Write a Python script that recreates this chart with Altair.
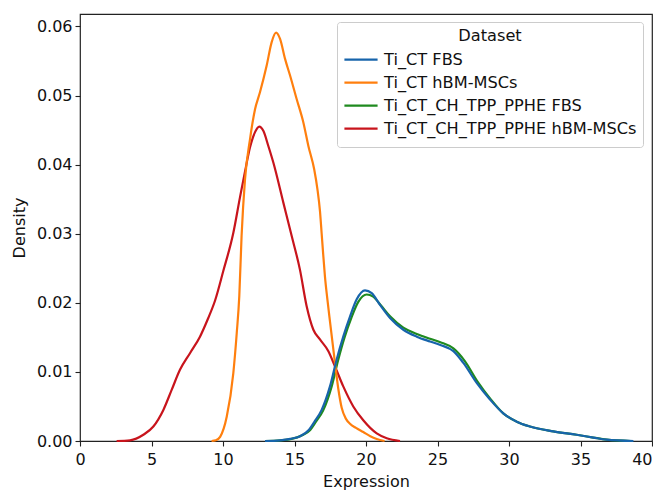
import altair as alt
import pandas as pd

series_names = ["Ti_CT FBS", "Ti_CT hBM-MSCs", "Ti_CT_CH_TPP_PPHE FBS", "Ti_CT_CH_TPP_PPHE hBM-MSCs"]
series_colors = ["#1764ab", "#ff7f0e", "#1f8a1f", "#c8141c"]

blue_x = [12.94, 14.0, 14.7, 15.4, 16.0, 16.4, 16.9, 17.48, 17.95, 18.41, 18.88, 19.35, 19.93, 20.4, 20.98, 21.68, 22.61, 23.55, 24.48, 25.2, 26.11, 26.81, 27.74, 28.67, 29.6, 30.54, 31.47, 33.1, 34.73, 35.9, 36.83, 38.7]
blue_y = [0, 0.0001, 0.0003, 0.0007, 0.0016, 0.0028, 0.0045, 0.0079, 0.0118, 0.0151, 0.018, 0.0205, 0.0218, 0.0214, 0.0197, 0.0178, 0.0161, 0.0151, 0.0144, 0.0139, 0.013, 0.0113, 0.0084, 0.006, 0.004, 0.0028, 0.0021, 0.0014, 0.0009, 0.0005, 0.0002, 0]

orange_x = [9.2, 9.5, 9.8, 10.26, 10.72, 10.96, 11.14, 11.3, 11.54, 11.89, 12.24, 12.59, 13.05, 13.4, 13.71, 13.99, 14.34, 14.69, 15.15, 15.62, 15.97, 16.38, 16.6, 16.78, 16.9, 17.0, 17.13, 17.3, 17.48, 17.83, 18.06, 18.3, 18.6, 18.88, 19.3, 19.81, 20.3, 20.75, 21.3]
orange_y = [0, 0.0001, 0.0006, 0.0035, 0.0098, 0.0156, 0.021, 0.0297, 0.0379, 0.0437, 0.048, 0.0505, 0.0543, 0.0577, 0.0591, 0.0582, 0.0553, 0.0529, 0.0495, 0.0461, 0.0427, 0.0393, 0.0365, 0.0333, 0.03, 0.0272, 0.0238, 0.0205, 0.0173, 0.0113, 0.0076, 0.0048, 0.0032, 0.0025, 0.0019, 0.0013, 0.0007, 0.0003, 0]

green_x = [12.94, 14.0, 14.8, 15.5, 16.1, 16.5, 17.0, 17.6, 18.05, 18.5, 18.97, 19.45, 20.05, 20.5, 21.05, 21.7, 22.61, 23.55, 24.48, 25.2, 26.11, 26.9, 27.8, 28.7, 29.6, 30.54, 31.47, 33.1, 34.73, 35.9, 36.83, 38.5]
green_y = [0, 0.0001, 0.0003, 0.0008, 0.0016, 0.0028, 0.0044, 0.0079, 0.0117, 0.015, 0.0178, 0.0201, 0.0212, 0.0209, 0.0196, 0.018, 0.0164, 0.0155, 0.0148, 0.0143, 0.0134, 0.0116, 0.0086, 0.0061, 0.004, 0.0028, 0.0021, 0.0014, 0.0009, 0.0005, 0.0002, 0]

red_x = [2.56, 3.5, 4.43, 5.13, 5.83, 6.41, 6.99, 7.69, 8.39, 8.97, 9.44, 10.02, 10.72, 11.19, 11.54, 11.89, 12.24, 12.54, 12.82, 13.17, 13.52, 14.22, 14.8, 15.38, 15.85, 16.32, 16.78, 17.37, 17.83, 18.41, 19.11, 19.81, 20.75, 21.45, 22.38]
red_y = [0, 0.0001, 0.0009, 0.0021, 0.0045, 0.0074, 0.0103, 0.0127, 0.0151, 0.0178, 0.0203, 0.0246, 0.0301, 0.0353, 0.039, 0.0425, 0.0447, 0.0455, 0.0449, 0.0427, 0.0403, 0.0345, 0.0297, 0.0248, 0.0195, 0.0161, 0.0147, 0.013, 0.0108, 0.0079, 0.005, 0.003, 0.0011, 0.0004, 0]

x_ticks = [0, 5, 10, 15, 20, 25, 30, 35, 40]
y_ticks = [0.0, 0.01, 0.02, 0.03, 0.04, 0.05, 0.06]

xs = [blue_x, orange_x, green_x, red_x]
ys = [blue_y, orange_y, green_y, red_y]
frames = []
for name, xv, yv in zip(series_names, xs, ys):
    frames.append(pd.DataFrame({"Expression": xv, "Density": yv, "Dataset": name}))
df = pd.concat(frames, ignore_index=True)

FONT = "DejaVu Sans"
FS = 16
LFS = 16.2

color = alt.Color(
    "Dataset:N",
    scale=alt.Scale(domain=series_names, range=series_colors),
    legend=alt.Legend(
        title="Dataset",
        orient="none",
        legendX=257,
        legendY=8,
        symbolType="stroke",
        symbolSize=1100,
        symbolStrokeWidth=2.2,
        labelFontSize=LFS,
        titleFontSize=LFS,
        titleFontWeight="normal",
        labelFont=FONT,
        titleFont=FONT,
        labelColor="#111",
        titleColor="#111",
        titleAnchor="middle",
        titlePadding=4,
        fillColor="white",
        strokeColor="#cccccc",
        cornerRadius=3,
        padding=6,
        rowPadding=0,
        clipHeight=23,
        labelOffset=5,
        labelLimit=400,
    ),
)

x_enc = alt.X("Expression:Q", scale=alt.Scale(domain=[0, 40], nice=False, zero=False),
              axis=alt.Axis(values=x_ticks, title="Expression", format="d",
                            labelAlign={"condition": {"test": "datum.value == 40", "value": "right"}, "value": "center"}))
y_enc = alt.Y("Density:Q", scale=alt.Scale(domain=[0, 0.0618], nice=False),
              axis=alt.Axis(values=y_ticks, title="Density", format=".2f"))

layers = []
for name in reversed(series_names):
    layers.append(
        alt.Chart(df).transform_filter(alt.datum.Dataset == name)
        .mark_line(interpolate="monotone", strokeWidth=2.2)
        .encode(x=x_enc, y=y_enc, color=color, order="Expression:Q")
    )

chart = alt.layer(*layers).properties(
    width=572,
    height=427,
    autosize=alt.AutoSizeParams(type="none"),
    padding={"left": 72, "top": 6, "right": 1, "bottom": 52},
).configure_view(
    stroke="#222", strokeWidth=1.2
).configure_axis(
    domain=False,
    grid=False,
    ticks=True,
    tickSize=5,
    tickColor="#222",
    tickWidth=1.1,
    labelFont=FONT,
    labelFontSize=FS,
    labelColor="#111",
    labelPadding=3,
    titleFont=FONT,
    titleFontSize=FS,
    titleFontWeight="normal",
    titleColor="#111",
).configure_axisX(
    titlePadding=6, labelFlush=False, labelPadding=5
).configure_axisY(
    titlePadding=9, labelFlush=False, labelPadding=3
)

chart.save("out.html", embed_options={"renderer": "svg", "actions": False})
